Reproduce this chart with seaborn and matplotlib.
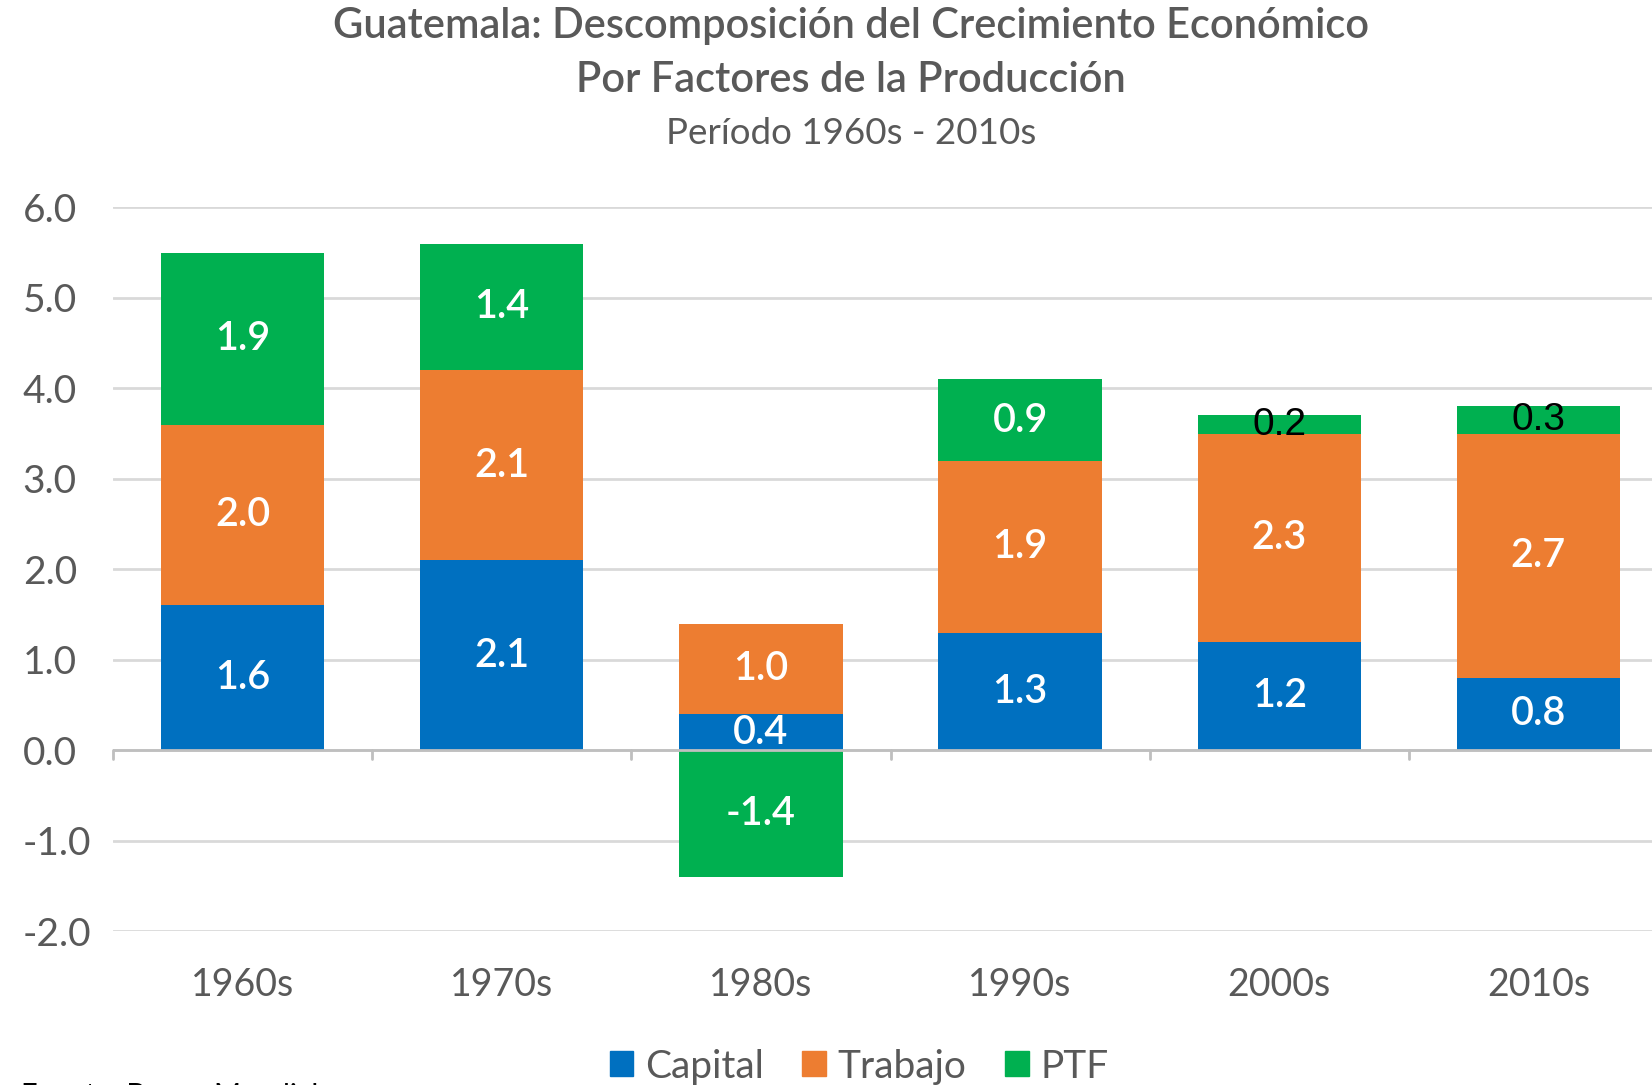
import matplotlib
matplotlib.use("Agg")
import matplotlib.pyplot as plt
import matplotlib.transforms as mtransforms
from matplotlib.patches import Patch
import numpy as np
import pandas as pd
import seaborn as sns

# Data
decades = ["1960s", "1970s", "1980s", "1990s", "2000s", "2010s"]
capital = [1.6, 2.1, 0.4, 1.3, 1.2, 0.8]
trabajo = [2.0, 2.1, 1.0, 1.9, 2.3, 2.7]
ptf = [1.9, 1.4, -1.4, 0.9, 0.2, 0.3]
yticks = [-2.0, -1.0, 0.0, 1.0, 2.0, 3.0, 4.0, 5.0, 6.0]

COLORS = {"Capital": "#0070C0", "Trabajo": "#ED7D31", "PTF": "#00B050"}
GREY = "#595959"

sns.set_theme(style="white")
plt.rcParams["font.family"] = ["Lato", "DejaVu Sans"]

fig = plt.figure(figsize=(16.52, 10.85), dpi=100)
ax = fig.add_axes([0.0684, 0.1419, 0.9413, 0.6669])

df = pd.DataFrame({"Decade": decades, "Capital": capital, "Trabajo": trabajo, "PTF": ptf})
base_ptf = np.where(df["PTF"] >= 0, df["Capital"] + df["Trabajo"], 0)

bar_kw = dict(width=0.63, saturation=1, linewidth=0, ax=ax)
sns.barplot(data=df, x="Decade", y="Capital", color=COLORS["Capital"], **bar_kw)
sns.barplot(data=df, x="Decade", y="Trabajo", color=COLORS["Trabajo"],
            bottom=df["Capital"], **bar_kw)
sns.barplot(data=df, x="Decade", y="PTF", color=COLORS["PTF"],
            bottom=base_ptf, **bar_kw)

# value labels
for cont, vals, name in zip(ax.containers, [capital, trabajo, ptf], ["Capital", "Trabajo", "PTF"]):
    texts = ax.bar_label(cont, labels=[f"{v:.1f}" for v in vals], label_type="center",
                         color="white", fontsize=28.5, fontweight="semibold")
    for t, v in zip(texts, vals):
        if name == "PTF" and abs(v) < 0.5:
            t.set_color("black")
            t.set_family(["Liberation Sans", "DejaVu Sans"])
            t.set_fontweight("normal")
            t.set_fontsize(28)

ax.set_ylim(-2, 6)
ax.set_xlim(-0.5, 5.5)
ax.set_yticks(yticks)
ax.set_yticklabels([f"{v:.1f}" for v in yticks])
ax.yaxis.grid(True, color="#D9D9D9", linewidth=2)
ax.set_axisbelow(True)
for s in ax.spines.values():
    s.set_visible(False)

ax.axhline(0, color="#BFBFBF", linewidth=2, zorder=1)
trans = mtransforms.blended_transform_factory(ax.transData, ax.transData)
for b in np.arange(-0.5, 6.0, 1.0):
    ax.plot([b, b], [0, -0.1], color="#BFBFBF", linewidth=2, transform=trans,
            clip_on=False, zorder=1)

ax.tick_params(axis="both", length=0, labelcolor=GREY)
ax.tick_params(axis="y", pad=65, labelsize=28)
ax.tick_params(axis="x", pad=26, labelsize=27)
for lbl in ax.get_yticklabels():
    lbl.set_horizontalalignment("left")
ax.set_xlabel("")
ax.set_ylabel("")

fig.text(0.515, 0.976, "Guatemala: Descomposición del Crecimiento Económico",
         ha="center", va="center", fontsize=30, fontweight="semibold", color=GREY)
fig.text(0.515, 0.926, "Por Factores de la Producción",
         ha="center", va="center", fontsize=30, fontweight="semibold", color=GREY)
fig.text(0.515, 0.877, "Período 1960s - 2010s",
         ha="center", va="center", fontsize=26.5, color=GREY)

handles = [Patch(color=COLORS[k]) for k in ["Capital", "Trabajo", "PTF"]]
fig.legend(handles, ["Capital", "Trabajo", "PTF"], loc="center", ncol=3,
           bbox_to_anchor=(0.52, 0.017), frameon=False, fontsize=28,
           labelcolor=GREY, handlelength=0.6, handleheight=0.6,
           handletextpad=0.3, columnspacing=1.0)

fig.text(0.013, 0.002, "Fuente: Banco Mundial", ha="left", va="top",
         fontsize=21, color="black")

fig.savefig("out.png", dpi=100)
